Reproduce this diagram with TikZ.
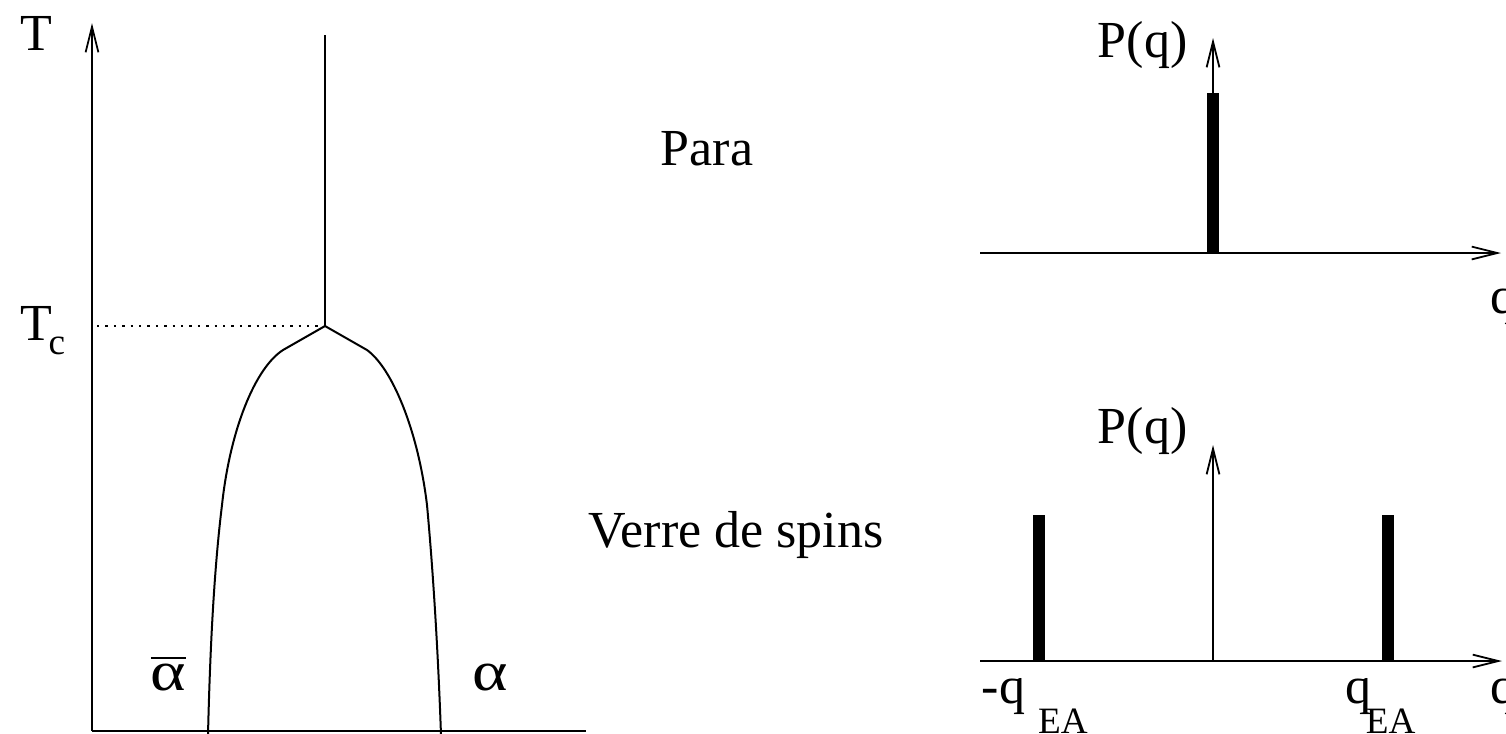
\documentclass[tikz,border=0pt]{standalone}
\usepackage{fontspec}
\setmainfont{Liberation Serif}
\usetikzlibrary{arrows.meta}
\newcommand{\lowsub}[3]{\kern#1\raisebox{#2}{\fontsize{9.3}{10}\selectfont #3}}
\newcommand{\wideal}{\scalebox{1.3}[1.08]{α}}

\begin{document}
\begin{tikzpicture}[x=0.25pt,y=-0.25pt,line join=round,
  axis/.style={line width=0.45pt,-{Straight Barb[length=6.4pt,width=3.2pt]}},
  bar/.style={line width=3pt},
  lbl/.style={anchor=base west,inner sep=0pt,font=\fontsize{13}{15}\selectfont}]
\clip (0,0) rectangle (1506,733);
% phase diagram
\coordinate (O) at (92,731);
\coordinate (Tt) at (92,23);
\coordinate (Xe) at (586,731);
\coordinate (C) at (325,326);
\coordinate (Ct) at (325,35);
\coordinate (Cax) at (97,326);
\draw[axis] (O) -- (Tt);
\draw[line width=0.45pt] (O) -- (Xe);
\draw[line width=0.45pt] (C) -- (Ct);
\draw[line width=0.45pt,dash pattern=on 0.6pt off 1.5pt] (Cax) -- (C);
\draw[line width=0.5pt] (C) -- (283,350) .. controls (255,368) and (230,430) .. (222,505)
  .. controls (214,570) and (210,650) .. (208,735);
\draw[line width=0.5pt] (C) -- (367,350) .. controls (392,368) and (418,430) .. (427,505)
  .. controls (433,570) and (438,650) .. (441,735);
\node[lbl] (T) at (20,50) {T};
\node[lbl] (Tc) at (20,340) {T\lowsub{-1pt}{-3.5pt}{c}};
\node[lbl] (abar) at (150,690) {$\overline{\hbox{\wideal}}$};
\node[lbl] (a) at (472,690) {\wideal};
\node[lbl] (para) at (660,165) {Para};
\node[lbl] (verre) at (588,547) {Verre de spins};
% P(q) para
\coordinate (o1) at (1213,253);
\coordinate (w1) at (980,253);
\coordinate (e1) at (1501,253);
\coordinate (n1) at (1213,38);
\coordinate (p1) at (1213,93);
\draw[axis] (w1) -- (e1);
\draw[axis] (o1) -- (n1);
\draw[bar] (o1) -- (p1);
\node[lbl] (P1) at (1097,57) {P(q)};
\node[lbl] (q1) at (1490,313) {q};
% P(q) verre de spins
\coordinate (o2) at (1213,661);
\coordinate (w2) at (980,661);
\coordinate (e2) at (1502,661);
\coordinate (n2) at (1213,445);
\draw[axis] (w2) -- (e2);
\draw[axis] (o2) -- (n2);
\foreach \x/\n in {1038.5/l,1387.5/r} {
  \coordinate (b\n) at (\x,661);
  \coordinate (t\n) at (\x,515);
  \draw[bar] (b\n) -- (t\n);
}
\node[lbl] (P2) at (1097,443) {P(q)};
\node[lbl] (mqea) at (981,703) {-q \lowsub{0pt}{-7.5pt}{EA}};
\node[lbl] (qea) at (1345,703) {q\lowsub{-1.5pt}{-7.5pt}{EA}};
\node[lbl] (q2) at (1490,703) {q};
\end{tikzpicture}
\end{document}
